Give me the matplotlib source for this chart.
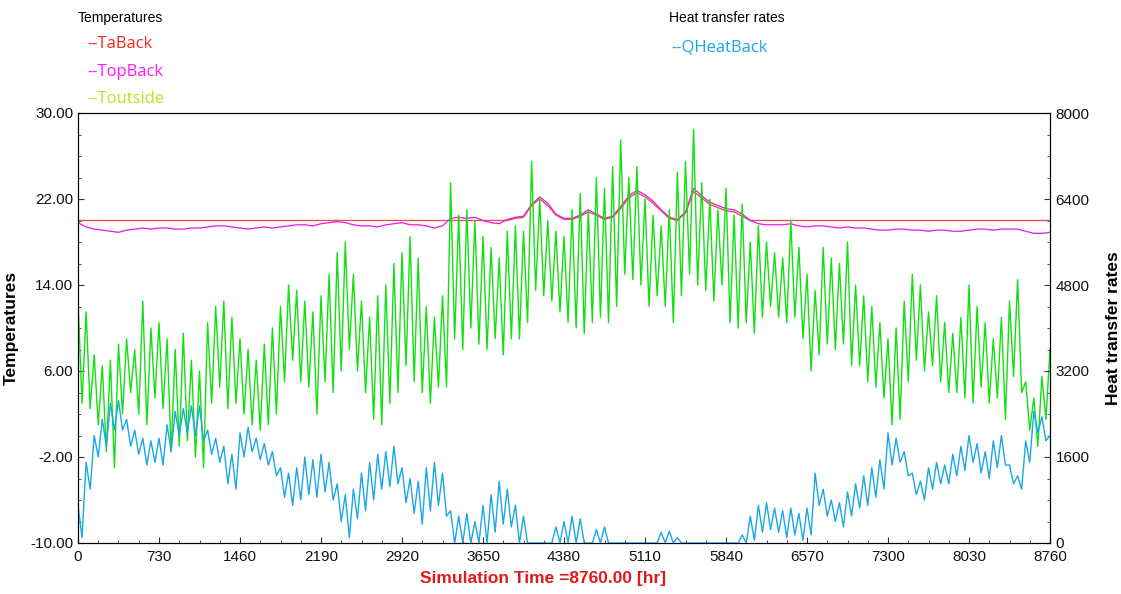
import numpy as np
import matplotlib
matplotlib.use("Agg")
import matplotlib.pyplot as plt
from matplotlib.ticker import MultipleLocator, FixedLocator

# values, one hi/lo pair every 73 h (120 steps over the year)
step = 73.0
toutside_hi = [12.5, 11.5, 7.5, 6.5, 7.0, 8.5, 9.0, 8.0, 12.5, 10.0,
               10.5, 9.0, 8.0, 9.5, 7.0, 6.0, 10.5, 12.0, 12.5, 11.0,
               9.0, 8.0, 7.0, 8.5, 10.0, 12.0, 14.0, 13.5, 12.5, 11.5,
               13.0, 15.0, 17.0, 18.0, 15.0, 12.5, 11.0, 13.0, 14.0, 16.0,
               17.0, 18.5, 16.5, 12.0, 11.0, 13.0, 23.5, 20.5, 21.0, 20.0,
               18.5, 17.5, 16.5, 19.0, 19.5, 19.0, 25.5, 22.0, 20.0, 19.0,
               18.5, 21.0, 22.5, 21.0, 24.0, 23.0, 25.0, 27.5, 24.0, 25.0,
               22.0, 20.5, 19.5, 21.0, 24.5, 25.5, 28.5, 23.5, 22.0, 21.0,
               23.0, 20.5, 21.5, 18.0, 19.5, 18.0, 17.0, 16.5, 20.0, 17.5,
               15.0, 13.5, 17.5, 16.5, 16.0, 18.0, 14.0, 13.0, 12.0, 10.5,
               9.0, 10.0, 12.5, 15.0, 14.0, 11.5, 13.0, 10.5, 9.5, 11.0,
               14.0, 12.0, 10.5, 9.0, 11.0, 12.5, 14.5, 5.0, 3.5, 5.5]
toutside_lo = [3.0, 2.5, 1.0, -1.5, -3.0, 2.0, 4.0, 2.0, 1.0, 3.5,
               2.5, -1.5, -1.0, -0.5, -2.0, -3.0, 3.0, 4.5, 2.5, 3.0,
               2.0, 1.0, 0.5, 1.0, 2.0, 5.0, 7.0, 5.0, 4.5, 2.0,
               5.0, 4.0, 6.0, 8.0, 6.0, 4.0, 1.5, 1.0, 3.0, 4.0,
               6.5, 5.0, 4.0, 3.0, 4.5, 4.5, 9.0, 8.0, 10.0, 8.5,
               8.0, 9.0, 7.5, 9.0, 9.0, 10.5, 13.5, 13.0, 12.5, 11.5,
               10.5, 10.0, 9.5, 10.5, 11.0, 10.5, 12.0, 15.0, 14.5, 14.0,
               12.0, 13.0, 12.0, 10.5, 13.0, 15.0, 14.0, 13.5, 12.5, 14.0,
               10.5, 10.0, 10.5, 9.5, 11.0, 12.0, 11.0, 10.5, 11.0, 9.0,
               6.0, 7.5, 8.5, 8.0, 8.5, 6.5, 6.5, 5.0, 4.5, 3.5,
               1.0, 1.5, 5.0, 7.0, 6.0, 6.5, 5.0, 4.0, 4.0, 3.5,
               3.0, 4.5, 3.0, 3.5, 1.5, 5.5, 4.0, 0.5, -1.0, 1.5]
toutside_end = 8.0

qheat_hi = [700, 1500, 2000, 2300, 2600, 2650, 2300, 2100, 1950, 1900,
            1950, 2200, 2450, 2500, 2550, 2550, 2100, 1950, 1800, 1650,
            2050, 2150, 1950, 1850, 1700, 1400, 1300, 1400, 1600, 1550,
            1650, 1500, 1100, 900, 1000, 1300, 1500, 1650, 1700, 1800,
            1400, 1200, 1150, 1400, 1500, 1300, 600, 500, 550, 400,
            700, 900, 1150, 1000, 700, 500, 0, 0, 0, 300,
            400, 500, 450, 0, 250, 300, 0, 0, 0, 0,
            0, 0, 200, 220, 100, 0, 0, 0, 0, 0,
            0, 0, 150, 500, 700, 750, 650, 600, 650, 550,
            650, 1300, 1000, 800, 750, 950, 1100, 1250, 1400, 1550,
            2050, 1950, 1700, 1300, 1150, 1400, 1500, 1450, 1650, 1800,
            2000, 1850, 1700, 1900, 2000, 1450, 1250, 1900, 2450, 2350]
qheat_lo = [100, 1000, 1600, 1800, 2100, 2100, 1800, 1650, 1450, 1500,
            1450, 1700, 2000, 2050, 2000, 1900, 1650, 1500, 1100, 1000,
            1600, 1700, 1550, 1450, 1250, 850, 700, 800, 900, 850,
            950, 800, 400, 100, 450, 600, 800, 1000, 1050, 1100,
            750, 550, 350, 600, 700, 500, 0, 0, 0, 0,
            0, 200, 350, 300, 0, 0, 0, 0, 0, 0,
            0, 0, 0, 0, 0, 0, 0, 0, 0, 0,
            0, 0, 0, 0, 0, 0, 0, 0, 0, 0,
            0, 0, 0, 50, 200, 250, 200, 100, 150, 50,
            150, 700, 500, 400, 300, 500, 650, 700, 850, 1000,
            1450, 1500, 1250, 900, 800, 1000, 1100, 1100, 1250, 1350,
            1500, 1300, 1200, 1400, 1450, 1100, 1000, 1500, 2050, 1900]
qheat_end = 2000

# one value per 73 h step, 121 points incl. the last hour
top_back = [19.8, 19.4, 19.2, 19.1, 19.0, 18.9, 19.1, 19.2, 19.3, 19.2,
            19.3, 19.3, 19.2, 19.2, 19.3, 19.3, 19.4, 19.5, 19.5, 19.4,
            19.3, 19.2, 19.3, 19.4, 19.3, 19.4, 19.5, 19.6, 19.6, 19.5,
            19.7, 19.8, 19.9, 19.8, 19.6, 19.5, 19.5, 19.4, 19.6, 19.7,
            19.8, 19.6, 19.6, 19.5, 19.3, 19.5, 20.2, 20.3, 20.2, 20.3,
            20.0, 19.8, 19.7, 20.1, 20.3, 20.4, 21.5, 22.2, 21.6, 20.6,
            20.2, 20.2, 20.5, 21.0, 20.6, 20.2, 20.4, 21.3, 22.3, 22.8,
            22.4, 21.8, 21.0, 20.3, 20.1, 20.8, 23.0, 22.3, 21.7, 21.4,
            21.1, 21.0, 20.6, 20.0, 19.7, 19.6, 19.6, 19.6, 19.7, 19.5,
            19.4, 19.5, 19.5, 19.4, 19.3, 19.4, 19.3, 19.3, 19.2, 19.1,
            19.1, 19.2, 19.2, 19.1, 19.1, 19.0, 19.1, 19.1, 19.0, 19.0,
            19.1, 19.2, 19.2, 19.1, 19.2, 19.2, 19.2, 19.0, 18.8, 18.8,
            18.9]
ta_back = ([20.0] * 53 +
           [20.0, 20.2, 20.3, 21.4, 22.0, 21.4, 20.5, 20.1, 20.1, 20.4,
            20.8, 20.5, 20.1, 20.3, 21.1, 22.1, 22.6, 22.2, 21.6, 20.9,
            20.2, 20.0, 20.7, 22.7, 22.1, 21.5, 21.2, 20.9, 20.8, 20.4,
            20.0] +
           [20.0] * 37)


def zigzag(hi, lo, end):
    # hi at the start of each step, lo half a step later
    t0 = np.arange(len(hi)) * step
    t = np.column_stack([t0, t0 + step / 2]).ravel()
    v = np.column_stack([hi, lo]).ravel()
    return np.append(t, 8760), np.append(v, end)


t_out, v_out = zigzag(toutside_hi, toutside_lo, toutside_end)
t_q, v_q = zigzag(qheat_hi, qheat_lo, qheat_end)
t_day = np.arange(len(top_back)) * step

plt.rcParams['font.family'] = ['Liberation Sans', 'DejaVu Sans']

fig = plt.figure(figsize=(11.21, 5.94), dpi=100)
ax = fig.add_axes([78 / 1121, 51 / 594, 972 / 1121, 430 / 594])
ax2 = ax.twinx()

ax.plot(t_day, ta_back, color='#e8524f', lw=1.0)
ax.plot(t_day, top_back, color='#e619e6', lw=0.9)
ax.plot(t_out, v_out, color='#12e012', lw=1.0)
ax2.plot(t_q, v_q, color='#1aa7e6', lw=1.0)

ax.set_xlim(0, 8760)
ax.set_ylim(-10, 30)
ax2.set_ylim(0, 8000)

ax.xaxis.set_major_locator(MultipleLocator(730))
ax.xaxis.set_minor_locator(MultipleLocator(182.5))
ax.yaxis.set_major_locator(FixedLocator([-10, -2, 6, 14, 22, 30]))
ax.yaxis.set_minor_locator(MultipleLocator(2))
ax2.yaxis.set_major_locator(MultipleLocator(1600))
ax2.yaxis.set_minor_locator(MultipleLocator(400))
ax.yaxis.set_major_formatter(lambda v, p: f"{v:.2f}")

for a in (ax, ax2):
    a.tick_params(which='both', direction='in', labelsize=11, colors='#333333',
                  labelcolor='#111111')
    a.tick_params(which='major', length=4)
    a.tick_params(which='minor', length=2.5)
ax.tick_params(axis='y', right=False)
ax2.tick_params(axis='y', pad=4)
ax.tick_params(axis='x', pad=5)

ax.set_ylabel("Temperatures", fontsize=12.5, fontweight='bold', labelpad=8)
ax2.set_ylabel("Heat transfer rates", fontsize=12.5, fontweight='bold', labelpad=12)
fig.text(543 / 1121, 1 - 578 / 594, "Simulation Time =8760.00 [hr]", color='#e01a1a',
         fontsize=12.5, fontweight='bold', ha='center', va='center')

# legend block in the top corners
leg_font = ['Open Sans', 'DejaVu Sans']
fig.text(78 / 1121, 1 - 18 / 594, "Temperatures", fontsize=10, va='center')
fig.text(87 / 1121, 1 - 44 / 594, "--TaBack", color='#ee2a24', fontsize=12,
         va='center', family=leg_font)
fig.text(87 / 1121, 1 - 72 / 594, "--TopBack", color='#ff1aff', fontsize=12,
         va='center', family=leg_font)
fig.text(87 / 1121, 1 - 99 / 594, "--Toutside", color='#b5e61d', fontsize=12,
         va='center', family=leg_font)
fig.text(669 / 1121, 1 - 18 / 594, "Heat transfer rates", fontsize=10, va='center')
fig.text(671 / 1121, 1 - 48 / 594, "--QHeatBack", color='#1aa7e6', fontsize=12,
         va='center', family=leg_font)

fig.savefig("out.png", dpi=100)
